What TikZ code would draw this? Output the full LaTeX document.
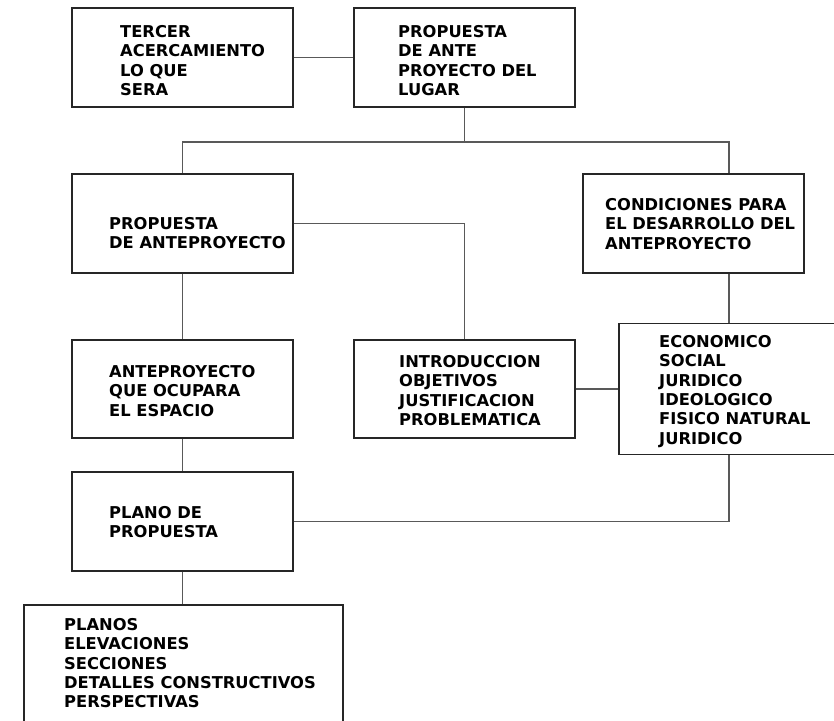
\documentclass[tikz,border=0pt]{standalone}
\usepackage{fontspec}
\setmainfont{DejaVu Sans}
\begin{document}
\begin{tikzpicture}[x=1pt,y=-1pt,
  box/.style={draw=black!85,line width=1.3pt,rectangle,inner sep=0pt,minimum width=221pt,minimum height=99pt},
  txt/.style={anchor=north west,inner sep=0pt,align=left,font=\fontsize{16.3}{19.4}\selectfont\bfseries},
  link/.style={draw=black!65,line width=1.3pt}]
\useasboundingbox (0,0) rectangle (834,720);
\clip (0,0) rectangle (834,720);
% boxes
\node[box] (A) at (182.5,57.5) {};
\node[box] (B) at (464.5,57.5) {};
\node[box] (C) at (182.5,223.5) {};
\node[box] (D) at (693.5,223.5) {};
\node[box,minimum height=98pt] (F) at (182.5,389) {};
\node[box,minimum height=98pt] (E) at (464.5,389) {};
\node[box,minimum width=226pt,minimum height=131pt] (G) at (732,389) {};
\node[box] (H) at (182.5,521.5) {};
\node[box,minimum width=319pt,minimum height=130pt] (I) at (183.5,670) {};
% texts
\node[txt] (tA) at (120,25) {TERCER\\ACERCAMIENTO\\LO QUE\\SERA};
\node[txt] (tB) at (398,25) {PROPUESTA\\DE ANTE\\PROYECTO DEL\\LUGAR};
\node[txt] (tC) at (109,217) {PROPUESTA\\DE ANTEPROYECTO};
\node[txt] (tD) at (605,198) {CONDICIONES PARA\\EL DESARROLLO DEL\\ANTEPROYECTO};
\node[txt] (tF) at (109,365) {ANTEPROYECTO\\QUE OCUPARA\\EL ESPACIO};
\node[txt] (tE) at (399,355) {INTRODUCCION\\OBJETIVOS\\JUSTIFICACION\\PROBLEMATICA};
\node[txt] (tG) at (659,335) {ECONOMICO\\SOCIAL\\JURIDICO\\IDEOLOGICO\\FISICO NATURAL\\JURIDICO};
\node[txt] (tH) at (109,506) {PLANO DE\\PROPUESTA};
\node[txt] (tI) at (64,618) {PLANOS\\ELEVACIONES\\SECCIONES\\DETALLES CONSTRUCTIVOS\\PERSPECTIVAS};
% helper coordinates
\coordinate (bus) at (464.5,142);
\coordinate (dx) at (729,0);
% connectors
\draw[link] (A.east) -- (B.west);
\draw[link] (B.south) -- (bus);
\draw[link] (C.north) |- (bus) -| (D.north -| dx);
\draw[link] (C.east) -| (E.north);
\draw[link] (C.south) -- (F.north);
\draw[link] (F.south) -- (H.north);
\draw[link] (D.south -| dx) -- (G.north -| dx);
\draw[link] (E.east) -- (G.west);
\draw[link] (G.south -| dx) |- (H.east);
\draw[link] (H.south) -- (H.south |- I.north);
\end{tikzpicture}
\end{document}
